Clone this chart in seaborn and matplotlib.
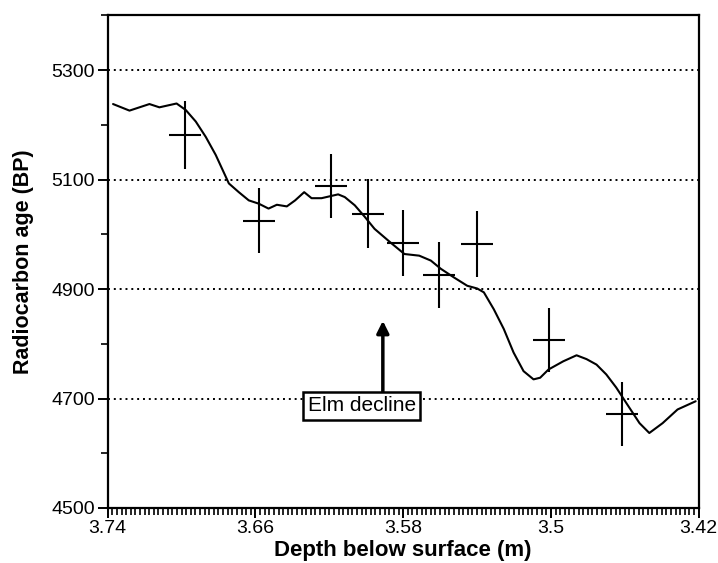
import numpy as np
import matplotlib
matplotlib.use("Agg")
import matplotlib.pyplot as plt
from matplotlib.ticker import MultipleLocator
import seaborn as sns

# wiggle-matched calibration curve (depth in m, age in years BP)
curve_depth = [3.7371, 3.7282, 3.7174, 3.7120, 3.7027, 3.6977, 3.6923, 3.6869,
               3.6815, 3.6744, 3.6690, 3.6636, 3.6582, 3.6529, 3.6484, 3.6430,
               3.6385, 3.6336, 3.6296, 3.6242, 3.6152, 3.6116, 3.6062, 3.6008,
               3.5955, 3.5865, 3.5793, 3.5713, 3.5650, 3.5596, 3.5524, 3.5453,
               3.5399, 3.5363, 3.5309, 3.5255, 3.5202, 3.5148, 3.5094, 3.5058,
               3.5013, 3.4933, 3.4861, 3.4807, 3.4753, 3.4700, 3.4646, 3.4592,
               3.4520, 3.4467, 3.4395, 3.4314, 3.4216]
curve_age = [5238, 5226, 5238, 5232, 5239, 5227, 5206, 5178,
             5145, 5093, 5077, 5062, 5056, 5047, 5054, 5051,
             5062, 5077, 5066, 5066, 5073, 5068, 5053, 5032,
             5010, 4984, 4964, 4961, 4952, 4937, 4921, 4906,
             4901, 4894, 4863, 4827, 4784, 4750, 4735, 4738,
             4753, 4768, 4779, 4772, 4762, 4744, 4720, 4692,
             4655, 4637, 4655, 4680, 4695]

# radiocarbon dates
date_depth = [3.698, 3.658, 3.619, 3.599, 3.580, 3.5605, 3.540, 3.501, 3.4615]
date_age = [5181, 5025, 5088, 5038, 4984, 4926, 4982, 4807, 4672]
date_err = [62, 59, 59, 63, 60, 60, 60, 59, 59]
depth_err = 0.0086

x_ticks = [3.74, 3.66, 3.58, 3.50, 3.42]
x_labels = ["3.74", "3.66", "3.58", "3.5", "3.42"]
y_ticks = [4500, 4700, 4900, 5100, 5300]
grid_ages = [4700, 4900, 5100, 5300]

sns.set_theme(style="ticks")
plt.rcParams['font.family'] = ['Liberation Sans', 'DejaVu Sans']
plt.rcParams.update({'text.color': 'black', 'axes.labelcolor': 'black',
                     'xtick.color': 'black', 'ytick.color': 'black'})

fig = plt.figure(figsize=(7.18, 5.63), dpi=100)
ax = fig.add_axes([0.150, 0.0977, 0.823, 0.875])

for g in grid_ages:
    ax.axhline(g, color='black', linestyle=(0, (1, 2)), linewidth=1.4, zorder=1)

sns.lineplot(x=curve_depth, y=curve_age, sort=False, estimator=None,
             color='black', linewidth=1.5, ax=ax, zorder=3)

ax.errorbar(date_depth, date_age, yerr=date_err, xerr=depth_err, fmt='none',
            ecolor='black', elinewidth=1.5, capsize=0, zorder=4)

# Elm decline marker
ax.annotate('', xy=(3.591, 4842), xytext=(3.591, 4712),
            arrowprops=dict(arrowstyle='-|>', color='black', lw=2.5,
                            mutation_scale=18, shrinkA=0, shrinkB=0))
ax.text(3.6025, 4687, 'Elm decline', fontsize=15, ha='center', va='center',
        color='black',
        bbox=dict(boxstyle='square,pad=0.22', facecolor='white',
                  edgecolor='black', linewidth=1.8), zorder=5)

ax.set_xlim(3.74, 3.42)
ax.set_ylim(4500, 5400)
ax.set_xticks(x_ticks)
ax.set_xticklabels(x_labels)
ax.xaxis.set_minor_locator(MultipleLocator(0.0025))
ax.set_yticks(y_ticks)
ax.yaxis.set_minor_locator(MultipleLocator(100))

ax.tick_params(axis='both', which='major', direction='out', length=7,
               width=1.4, color='black', labelcolor='black', labelsize=14, pad=2)
ax.tick_params(axis='both', which='minor', direction='out', length=5,
               width=1.2, color='black')
for s in ax.spines.values():
    s.set_color('black')
    s.set_linewidth(1.6)

ax.set_xlabel('Depth below surface (m)', fontsize=16, fontweight='bold',
              labelpad=2, color='black')
ax.set_ylabel('Radiocarbon age (BP)', fontsize=15.5, fontweight='bold',
              labelpad=13, color='black')

fig.savefig('out.png', dpi=100)
